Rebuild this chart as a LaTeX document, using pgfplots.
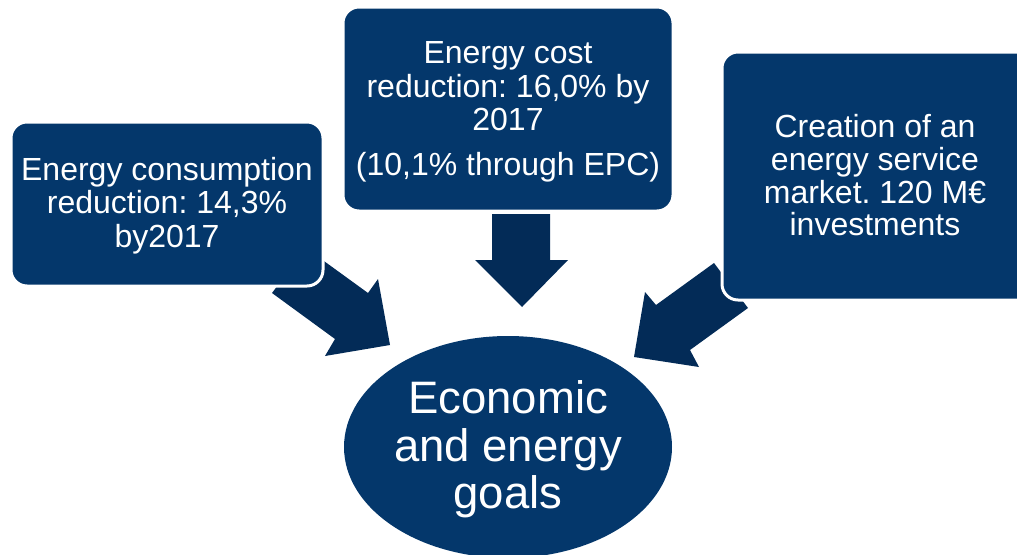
\documentclass[border=0pt]{standalone}
\usepackage{pgfplots}
\pgfplotsset{compat=1.18}
\usepackage{fontspec}
\setmainfont{Liberation Sans}
\frenchspacing
\definecolor{boxblue}{RGB}{4,55,107}
\definecolor{arrowblue}{RGB}{3,43,87}
\begin{document}
\begin{tikzpicture}
\begin{axis}[
  hide axis, scale only axis,
  x=1pt, y=1pt,
  xmin=0, xmax=1017, ymin=0, ymax=554,
  y dir=reverse,
  clip=true,
]
% arrows
\addplot[fill=arrowblue, draw=none] coordinates {(492,214) (550,214) (550,260) (568,260) (522,307) (475,260) (492,260)} -- cycle;
\addplot[fill=arrowblue, draw=none] coordinates {(272,293) (335,339) (325,356) (390,345) (378,279) (368,293) (306,248)} -- cycle;
\addplot[fill=arrowblue, draw=none] coordinates {(714,263) (656,305) (645,292) (634,357) (699,367) (690,350) (748,308)} -- cycle;
% boxes
\filldraw[fill=boxblue, draw=white, line width=3pt, rounded corners=16pt] (axis cs:11,122) rectangle (axis cs:323,286);
\filldraw[fill=boxblue, draw=white, line width=3pt, rounded corners=16pt] (axis cs:343,7) rectangle (axis cs:673,211);
\filldraw[fill=boxblue, draw=white, line width=3pt, rounded corners=16pt] (axis cs:722,52) rectangle (axis cs:1040,300);
% ellipse
\fill[boxblue] (axis cs:508,447) ellipse [x radius=164, y radius=111];
% texts
\tikzset{lbl/.style={text=white, inner sep=0pt, anchor=base, font=\fontsize{32}{33.5}\selectfont}}
\node[lbl] at (axis cs:167,180) {Energy consumption};
\node[lbl] at (axis cs:167,213) {reduction: 14,3\%};
\node[lbl] at (axis cs:167,247) {by2017};
\node[lbl] at (axis cs:508,63) {Energy cost};
\node[lbl] at (axis cs:508,97) {reduction: 16,0\% by};
\node[lbl] at (axis cs:508,130) {2017};
\node[lbl] at (axis cs:508,175) {(10,1\% through EPC)};
\node[lbl] at (axis cs:875,137) {Creation of an};
\node[lbl] at (axis cs:875,170) {energy service};
\node[lbl] at (axis cs:875,203) {market. 120 M€};
\node[lbl] at (axis cs:875,235) {investments};
\tikzset{big/.style={text=white, inner sep=0pt, anchor=base, font=\fontsize{45.5}{47.5}\selectfont}}
\node[big] at (axis cs:508,413) {Economic};
\node[big] at (axis cs:508,461) {and energy};
\node[big] at (axis cs:508,508) {goals};
\end{axis}
\pgfresetboundingbox
\path[use as bounding box] (current axis.south west) rectangle (current axis.north east);
\end{tikzpicture}
\end{document}
